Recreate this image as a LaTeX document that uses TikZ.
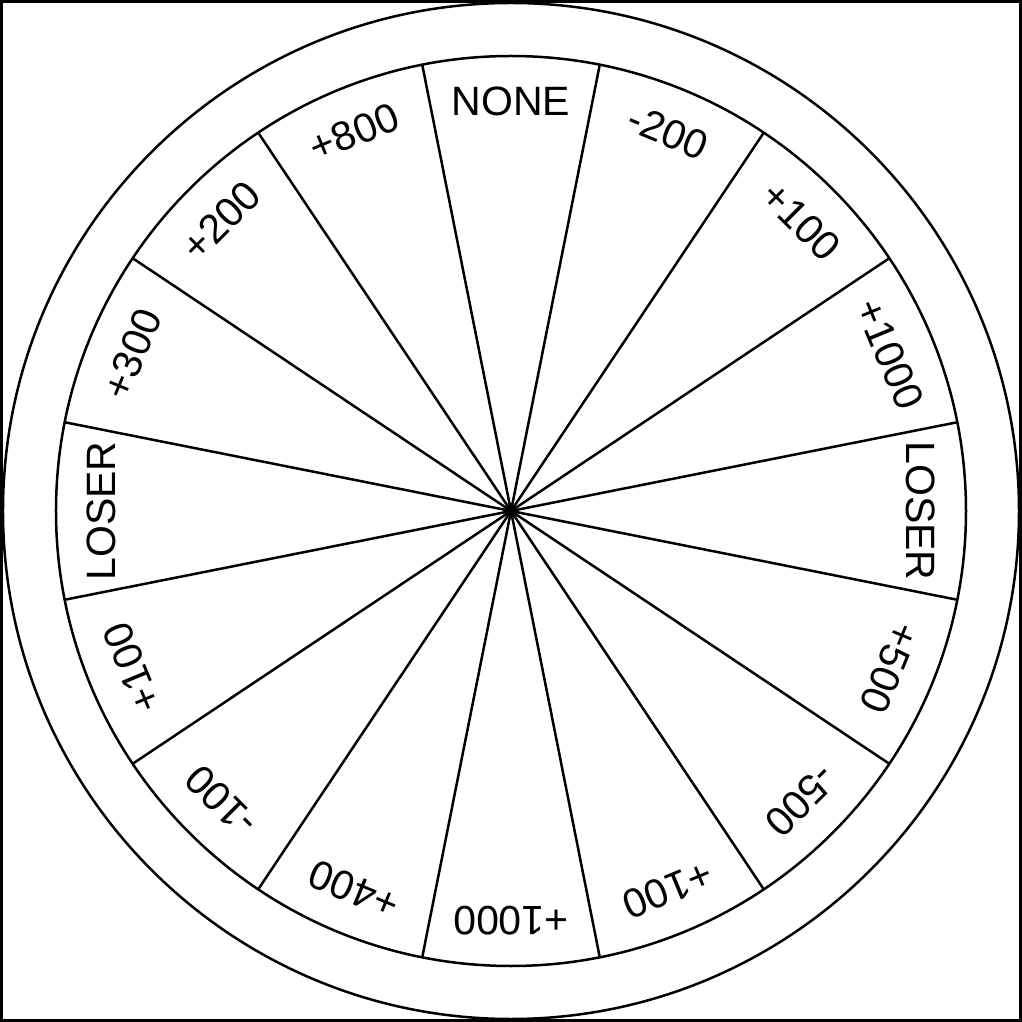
\documentclass[tikz,border=0pt]{standalone}
\usepackage{fontspec}
\setmainfont{Liberation Sans}
\begin{document}
\begin{tikzpicture}[x=0.5pt,y=0.5pt]
\tikzset{
  lbl/.style={font=\fontsize{20.5}{24}\selectfont, inner sep=0pt},
  spoke/.style={line width=1.25pt},
  rim/.style={line width=1.25pt}
}
\useasboundingbox (-511,-511) rectangle (511,511);
\draw[line width=1.5pt] (-509.5,-509.5) rectangle (509.5,509.5);
\coordinate (c) at (0,0);
\draw[rim] (c) circle[radius=508];
\draw[rim] (c) circle[radius=455];
\foreach \i in {0,...,15} {
  \coordinate (v\i) at ({101.25-22.5*\i}:455);
  \draw[spoke] (c) -- (v\i);
}
\foreach \t [count=\j from 0] in {NONE,-200,+100,+1000,LOSER,+500,-500,+100,+1000,+400,-100,+100,LOSER,+300,+200,+800} {
  \node[lbl, rotate={-22.5*\j}] (l\j) at ({90-22.5*\j}:410) {\t};
}
\end{tikzpicture}
\end{document}
